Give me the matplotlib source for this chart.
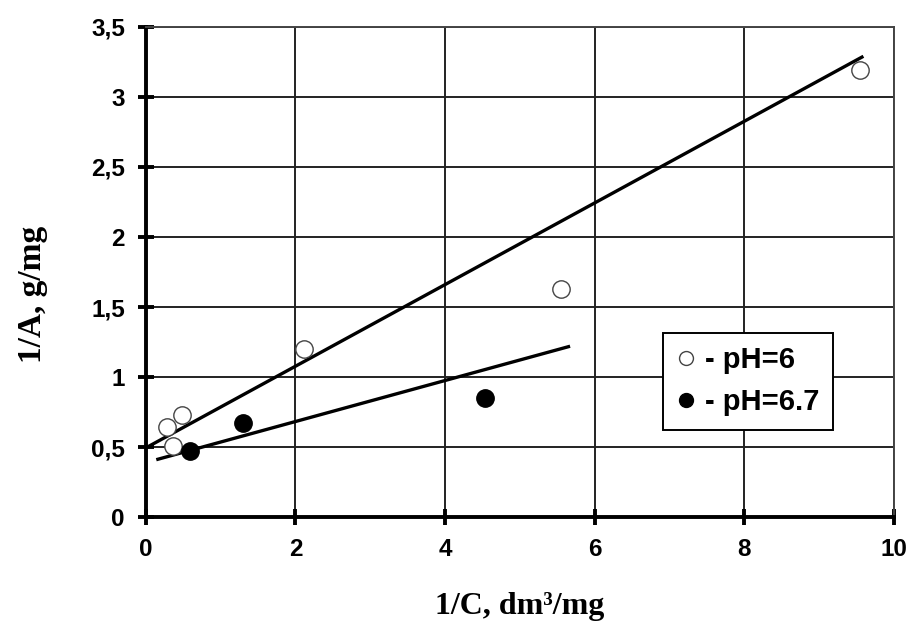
import matplotlib

matplotlib.use("Agg")
import matplotlib.pyplot as plt
from matplotlib.ticker import FuncFormatter

# open circles, pH = 6
x_ph6 = [0.28, 0.36, 0.48, 2.11, 5.55, 9.55]
y_ph6 = [0.64, 0.51, 0.73, 1.20, 1.63, 3.19]
# filled circles, pH = 6.7
x_ph67 = [0.59, 1.30, 4.53]
y_ph67 = [0.47, 0.67, 0.85]

# fitted straight lines (end points)
fit6_x = [0.02, 9.59]
fit6_y = [0.50, 3.29]
fit67_x = [0.14, 5.67]
fit67_y = [0.41, 1.22]

x_ticks = [0, 2, 4, 6, 8, 10]
y_ticks = [0, 0.5, 1, 1.5, 2, 2.5, 3, 3.5]

fig = plt.figure(figsize=(9.17, 6.4), dpi=100)
ax = fig.add_axes([0.159, 0.192, 0.816, 0.766])

ax.plot(fit6_x, fit6_y, color="black", lw=2.4, solid_capstyle="butt", zorder=3)
ax.plot(fit67_x, fit67_y, color="black", lw=2.4, solid_capstyle="butt", zorder=3)

ax.plot(x_ph6, y_ph6, "o", ms=12.5, mfc="white", mec="#444444", mew=1.0,
        zorder=4, label="- pH=6")
ax.plot(x_ph67, y_ph67, "o", ms=12.5, mfc="black", mec="black",
        zorder=4, label="- pH=6.7")

ax.set_xlim(0, 10)
ax.set_ylim(0, 3.5)
ax.set_xticks(x_ticks)
ax.set_yticks(y_ticks)
ax.yaxis.set_major_formatter(FuncFormatter(lambda v, p: f"{v:g}".replace(".", ",")))

ax.grid(True, color="#222222", lw=1.4)
ax.set_axisbelow(True)

for side in ["top", "right"]:
    ax.spines[side].set_linewidth(1.4)
    ax.spines[side].set_color("#444444")
for side in ["left", "bottom"]:
    ax.spines[side].set_linewidth(2.8)

ax.tick_params(direction="inout", length=12, width=2.8, pad=9)
for lab in ax.get_xticklabels() + ax.get_yticklabels():
    lab.set_fontfamily("Liberation Sans")
    lab.set_fontweight("bold")
    lab.set_fontsize(17.5)

ax.set_xlabel("1/C, dm³/mg", family="Liberation Serif",
              fontweight="bold", fontsize=23, labelpad=22)
ax.set_ylabel("1/A, g/mg", family="Liberation Serif",
              fontweight="bold", fontsize=24, va="center")
ax.yaxis.set_label_coords(-0.151, 0.455)

leg = ax.legend(loc="upper left", bbox_to_anchor=(0.691, 0.376),
                frameon=True, fancybox=False, edgecolor="black",
                framealpha=1, handlelength=0.7, handletextpad=0.3,
                markerscale=0.8, borderpad=0.45, labelspacing=0.5,
                borderaxespad=0,
                prop={"family": "Liberation Sans", "size": 21,
                      "weight": "bold"})
leg.get_frame().set_linewidth(1.4)

plt.savefig("out.png", dpi=100)
plt.close()
